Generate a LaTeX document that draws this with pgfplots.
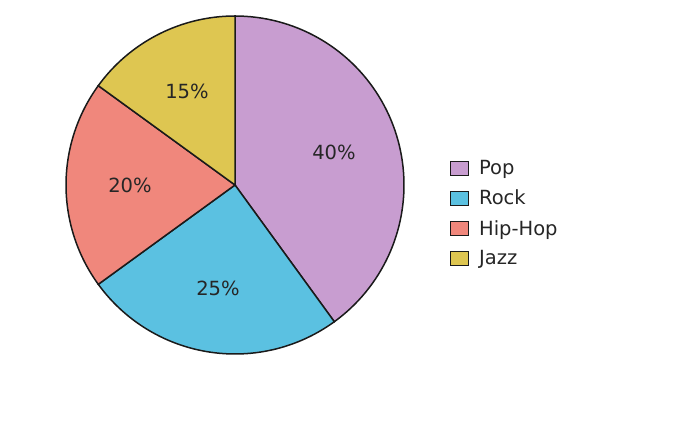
\documentclass[border=0pt]{standalone}
\usepackage{pgfplots}
\pgfplotsset{compat=1.18}
\usepackage{fontspec}
\setmainfont{DejaVu Sans}
\definecolor{popc}{HTML}{C89DD0}
\definecolor{rockc}{HTML}{5BC1E1}
\definecolor{hipc}{HTML}{F0877C}
\definecolor{jazzc}{HTML}{DEC651}
\definecolor{edgec}{HTML}{1A1A1A}
\definecolor{txtc}{HTML}{262626}
\begin{document}
\begin{tikzpicture}
\begin{axis}[
  scale only axis, width=682bp, height=429bp,
  xmin=0, xmax=682, ymin=0, ymax=429,
  hide axis, clip=false,
  legend style={at={(axis cs:450,269)}, anchor=north west, draw=none, fill=none,
    font=\fontsize{19.5bp}{23bp}\selectfont\color{txtc}, row sep=14bp,
    inner sep=0pt, nodes={inner xsep=10bp, inner ysep=0pt}},
  legend cell align=left,
  legend image code/.code={\draw[#1,line width=0.9bp] (0bp,-7bp) rectangle (18bp,7bp);},
]
\path[draw=none] (axis cs:0,0) rectangle (axis cs:682,429);
% slices: Pop 40, Rock 25, Hip-Hop 20, Jazz 15 (start 90 deg, clockwise)
\addplot[fill=popc, draw=edgec, line width=1.5bp, domain=-54:90, samples=80, variable=\t]
  ({235+169*cos(t)},{244+169*sin(t)}) -- (axis cs:235,244) -- cycle;
\addlegendentry{Pop}
\addplot[fill=rockc, draw=edgec, line width=1.5bp, domain=-144:-54, samples=60, variable=\t]
  ({235+169*cos(t)},{244+169*sin(t)}) -- (axis cs:235,244) -- cycle;
\addlegendentry{Rock}
\addplot[fill=hipc, draw=edgec, line width=1.5bp, domain=144:216, samples=50, variable=\t]
  ({235+169*cos(t)},{244+169*sin(t)}) -- (axis cs:235,244) -- cycle;
\addlegendentry{Hip-Hop}
\addplot[fill=jazzc, draw=edgec, line width=1.5bp, domain=90:144, samples=40, variable=\t]
  ({235+169*cos(t)},{244+169*sin(t)}) -- (axis cs:235,244) -- cycle;
\addlegendentry{Jazz}
\begin{scope}[every node/.style={font=\fontsize{19.5bp}{23bp}\selectfont, text=txtc}]
\node at (axis cs:334,277) {40\%};
\node at (axis cs:218,141) {25\%};
\node at (axis cs:130,244) {20\%};
\node at (axis cs:187,338) {15\%};
\end{scope}
\end{axis}
\end{tikzpicture}
\end{document}
